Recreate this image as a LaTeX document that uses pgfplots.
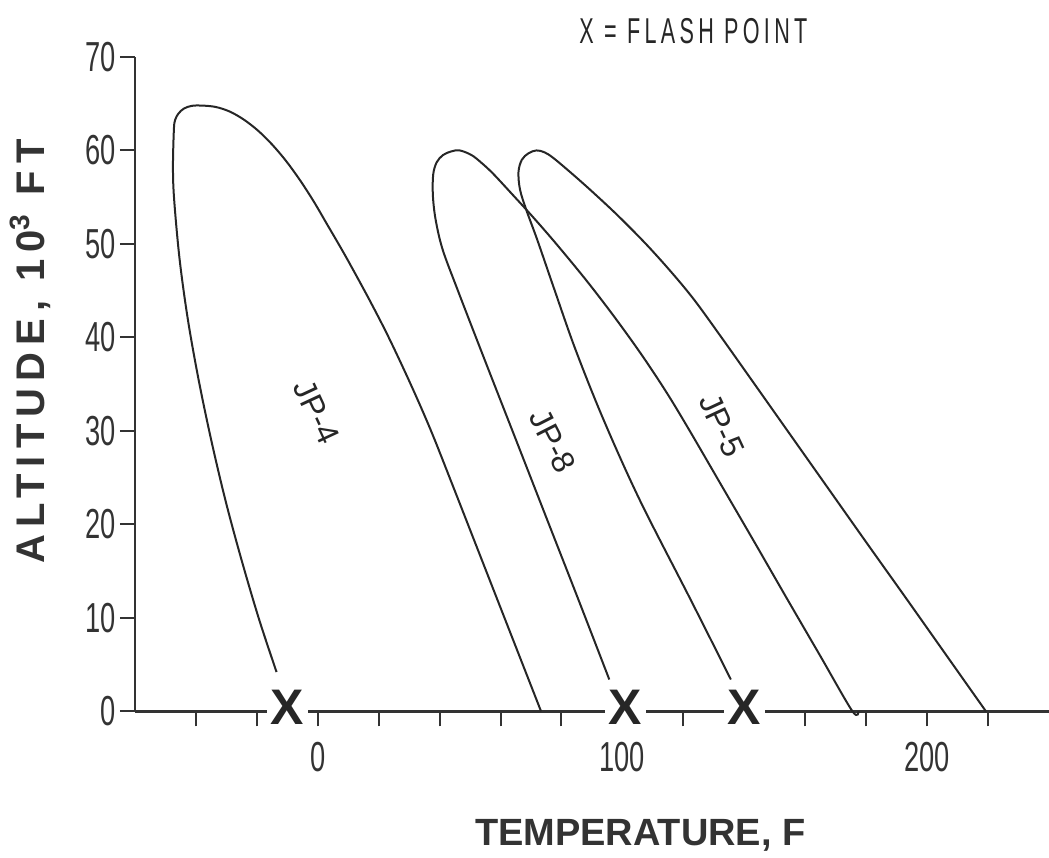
\documentclass[border=0pt]{standalone}
\usepackage{pgfplots}
\pgfplotsset{compat=1.18}
\usepackage{fontspec}
\setmainfont{Liberation Sans}
\newfontfamily\narrow[FakeStretch=0.65]{Liberation Sans}
\newfontfamily\flashfont[FakeStretch=0.6,LetterSpace=12]{Liberation Sans}
\newfontfamily\labfont[LetterSpace=18]{Liberation Sans}
\begin{document}
\begin{tikzpicture}
\begin{axis}[
  scale only axis, width=457.5pt, height=327.5pt,
  xmin=-60, xmax=240, ymin=0, ymax=70,
  clip=false,
  axis x line=bottom, axis y line=left,
  x axis line style={-}, y axis line style={-},
  axis line style={line width=1.2pt, draw=black!80},
  xtick={-40,-20,...,220},
  xticklabels={,,0,,,,,100,,,,,200,},
  ytick={0,10,...,70},
  tick align=outside, major tick length=7.5pt,
  tick style={line width=1pt, draw=black!80},
  /pgf/number format/assume math mode=true,
  tick label style={font=\narrow\fontsize{21}{24}\selectfont, text=black!80},
  xticklabel style={anchor=north, inner sep=0pt, yshift=-8pt},
  yticklabel style={anchor=east, inner sep=0pt, xshift=-2pt},
  xlabel={TEMPERATURE, F},
  ylabel={ALTITUDE, 10\textsuperscript{3} FT},
  xlabel style={font=\bfseries\fontsize{19}{20}\selectfont, text=black!80,
    at={(axis description cs:0.553,-0.189)}, anchor=center},
  ylabel style={font=\labfont\bfseries\fontsize{20}{20}\selectfont, text=black!80,
    at={(axis description cs:-0.1148,0.55)}, anchor=center},
]
\coordinate (ll) at (rel axis cs:0,0);
\coordinate (ur) at (rel axis cs:1,1);

% JP-4
\addplot[smooth, tension=0.55, line width=1pt, black!85] coordinates {
  (-13.5,4.2) (-19.2,9.8) (-25.0,16.2) (-30.3,22.6) (-35.0,29.1)
  (-39.1,35.5) (-42.6,41.9) (-45.3,48.3) (-47.1,54.7) (-47.5,58.2)
  (-47.2,62.2) (-46.8,63.25) (-45.7,63.94) (-43.9,64.48) (-41.3,64.77)
  (-38.1,64.8) (-33.5,64.65) (-28.9,64.16) (-24.3,63.31) (-19.7,62.15)
  (-15.1,60.68) (-10.5,58.92) (-5.9,56.86) (-1.3,54.54) (3.25,52)
  (6.84,50) (10.32,48) (17.0,44) (23.3,40) (30.5,35) (37.2,30)
  (44.5,24) (51.7,18) (58.9,12) (66.1,6) (73.3,0)
};

% JP-8
\addplot[smooth, tension=0.55, line width=1pt, black!85] coordinates {
  (95.7,3.4) (85.5,12.0) (75.3,20.5) (65.0,29.1) (54.8,37.6)
  (45.9,45.1) (41.0,49.4) (38.7,52.6) (37.8,55.2) (37.9,57.4)
  (39.0,58.7) (41.1,59.5) (43.9,59.9) (46.6,60.0) (50.5,59.5)
  (54.0,58.6) (57.6,57.5) (63.3,55.5) (70.3,53) (78.3,50) (88.4,46)
  (97.8,42) (106.6,38) (114.7,34) (122.1,30) (132.8,24) (143.5,18)
  (154.1,12) (164.8,6) (175.5,0) (177.5,0)
};

% JP-5
\addplot[smooth, tension=0.55, line width=1pt, black!85] coordinates {
  (135.6,3.4) (122.3,12.0) (105.7,22.6) (93.8,31.2) (84.6,38.7)
  (77.7,45.1) (72.1,50.4) (68.5,53.6) (66.4,55.8) (65.9,57.7)
  (67.0,59.0) (69.2,59.7) (71.8,60.0) (74.4,59.8) (77.3,59.2)
  (83.5,57.5) (90.4,55.5) (98.6,53) (107.7,50) (116.0,47) (123.6,44)
  (132.5,40) (141.2,36) (154.2,30) (167.2,24) (180.2,18) (193.3,12)
  (206.3,6) (219.3,0)
};

% flash points
\addplot[only marks, mark=none,
  nodes near coords={X},
  every node near coord/.style={anchor=center, fill=white, inner sep=2pt,
    yshift=2pt, text=black!85,
    font=\bfseries\fontsize{25}{25}\selectfont}
] coordinates {(-10,0) (101,0) (140,0)};

\node[font=\fontsize{16}{16}\selectfont, text=black!85, rotate=-65]
  at (axis cs:-0.4,32) {JP-4};
\node[font=\fontsize{16}{16}\selectfont, text=black!85, rotate=-63]
  at (axis cs:77.2,28.9) {JP-8};
\node[font=\fontsize{16}{16}\selectfont, text=black!85, rotate=-65]
  at (axis cs:132.6,30.6) {JP-5};
\node[font=\flashfont\fontsize{18}{18}\selectfont, text=black!85]
  at (axis description cs:0.611,1.0397) {X = FLASH POINT};
\end{axis}
\pgfresetboundingbox
\path ([xshift=-67.5pt,yshift=-73pt]ll) rectangle ([yshift=28.5pt]ur);
\end{tikzpicture}
\end{document}
